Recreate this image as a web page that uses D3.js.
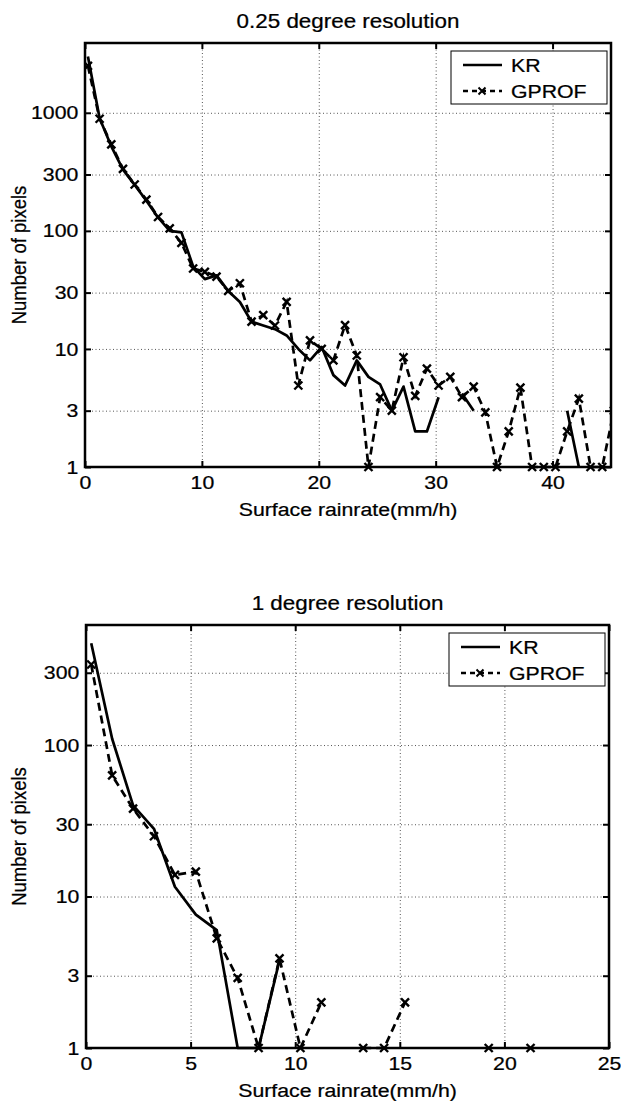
<!DOCTYPE html>
<html>
<head>
<meta charset="utf-8">
<script src="https://cdn.jsdelivr.net/npm/d3@7"></script>
<style>
  body { margin: 0; background: #fff; }
  svg text { font-family: "Liberation Sans", Arial, sans-serif; fill: #000; stroke: #000; stroke-width: 0.25px; }
</style>
</head>
<body>
<svg id="chart" width="621" height="1101"></svg>
<script>
// 0.25 degree panel (rain rate bin, pixel counts; null = no pixels)
const rain25 = [0.25, 1.25, 2.25, 3.25, 4.25, 5.25, 6.25, 7.25, 8.25, 9.25,
  10.25, 11.25, 12.25, 13.25, 14.25, 15.25, 16.25, 17.25, 18.25, 19.25,
  20.25, 21.25, 22.25, 23.25, 24.25, 25.25, 26.25, 27.25, 28.25, 29.25,
  30.25, 31.25, 32.25, 33.25, 34.25, 35.25, 36.25, 37.25, 38.25, 39.25,
  40.25, 41.25, 42.25, 43.25, 44.25, 45.25];
const kr25 = [3000, 900, 520, 330, 245, 180, 130, 100, 97, 50,
  39, 42, 31, 25, 17, 15.8, 14.7, 13, 10, 8,
  10.4, 6, 4.9, 8, 5.8, 5, 3, 4.8, 2, 2,
  3.9, null, 4.2, 3, null, null, null, null, null, null,
  null, 3, 1, null, null, null];
const gprof25 = [2500, 890, 540, 335, 247, 184, 131, 105, 79, 48,
  45, 41, 31, 36, 17, 19.3, 15.8, 25, 4.9, 11.8,
  10, 8, 15.9, 8.8, 1, 3.9, 3, 8.5, 4, 6.8,
  4.9, 5.8, 3.9, 4.8, 2.9, 1, 2, 4.7, 1, 1,
  1, 2, 3.8, 1, 1, 3];

// 1 degree panel
const rain1 = [0.25, 1.25, 2.25, 3.25, 4.25, 5.25, 6.25, 7.25, 8.25, 9.25,
  10.25, 11.25, 12.25, 13.25, 14.25, 15.25, 16.25, 17.25, 18.25, 19.25,
  20.25, 21.25];
const kr1 = [470, 110, 40, 28, 11.6, 7.6, 6, 1, 1, 3.8,
  null, null, null, null, null, null, null, null, null, null,
  null, null];
const gprof1 = [340, 63, 38, 25, 13.9, 14.6, 5.3, 2.9, 1, 3.9,
  1, 2, null, 1, 1, 2, null, null, null, 1,
  null, 1];

const xTicks25 = [0, 10, 20, 30, 40];
const yTicks25 = [1, 3, 10, 30, 100, 300, 1000];
const xTicks1 = [0, 5, 10, 15, 20, 25];
const yTicks1 = [1, 3, 10, 30, 100, 300];
const seriesNames = ["KR", "GPROF"];

const svg = d3.select("#chart");
const SX = 1.12; // scanned figure is a bit wider than tall

function label(g, x, y, txt, size, rot) {
  return g.append("text")
    .attr("transform", "translate(" + x + "," + y + ") scale(" + SX + ",1)" + (rot ? " rotate(-90)" : ""))
    .attr("text-anchor", "middle")
    .style("font-size", size + "px")
    .text(txt);
}

function drawPanel(cfg) {
  const g = svg.append("g");
  const x = d3.scaleLinear().domain(cfg.xDomain).range([cfg.left, cfg.right]);
  const y = d3.scaleLog().domain(cfg.yDomain).range([cfg.bottom, cfg.top]);
  const w = cfg.right - cfg.left;
  const h = cfg.bottom - cfg.top;

  // dotted grid
  const grid = g.append("g");
  grid.append("g")
    .attr("transform", "translate(0," + cfg.bottom + ")")
    .call(d3.axisBottom(x).tickValues(cfg.xTicks).tickSize(-h).tickFormat(""));
  grid.append("g")
    .attr("transform", "translate(" + cfg.left + ",0)")
    .call(d3.axisLeft(y).tickValues(cfg.yTicks).tickSize(-w).tickFormat(""));
  grid.selectAll(".domain").remove();
  grid.selectAll(".tick line")
    .attr("stroke", "#555")
    .attr("stroke-width", 1)
    .attr("stroke-dasharray", "1,2.5");

  // tick marks + labels
  const xAx = g.append("g")
    .attr("transform", "translate(0," + cfg.bottom + ")")
    .call(d3.axisBottom(x).tickValues(cfg.xTicks).tickSizeInner(-6).tickSizeOuter(0).tickPadding(9));
  const yAx = g.append("g")
    .attr("transform", "translate(" + cfg.left + ",0)")
    .call(d3.axisLeft(y).tickValues(cfg.yTicks).tickFormat(d3.format("d")).tickSizeInner(-6).tickSizeOuter(0).tickPadding(6));
  const tAx = g.append("g")
    .attr("transform", "translate(0," + cfg.top + ")")
    .call(d3.axisTop(x).tickValues(cfg.xTicks).tickSizeInner(-6).tickSizeOuter(0).tickFormat(""));
  const rAx = g.append("g")
    .attr("transform", "translate(" + cfg.right + ",0)")
    .call(d3.axisRight(y).tickValues(cfg.yTicks).tickSizeInner(-6).tickSizeOuter(0).tickFormat(""));
  [xAx, yAx].forEach((a) => a.selectAll("text")
    .style("font-size", "19px").attr("fill", "#000")
    .attr("transform", "scale(" + SX + ",1)"));
  [xAx, yAx, tAx, rAx].forEach((a) => {
    a.select(".domain").remove();
    a.selectAll(".tick line").attr("stroke", "#000").attr("stroke-width", 2);
  });

  // lines
  const clipId = "clip" + cfg.id;
  svg.append("clipPath").attr("id", clipId)
    .append("rect").attr("x", cfg.left).attr("y", cfg.top - 10).attr("width", w).attr("height", h + 20);

  const line = d3.line()
    .defined((d) => d.v != null)
    .x((d) => x(d.r))
    .y((d) => y(d.v));

  const krData = cfg.rain.map((r, i) => ({ r: r, v: cfg.kr[i] }));
  const gpData = cfg.rain.map((r, i) => ({ r: r, v: cfg.gprof[i] }));

  const lg = g.append("g").attr("clip-path", "url(#" + clipId + ")");
  lg.append("path").datum(krData)
    .attr("d", line).attr("fill", "none")
    .attr("stroke", "#000").attr("stroke-width", 2.7).attr("stroke-linejoin", "round");
  lg.append("path").datum(gpData)
    .attr("d", line).attr("fill", "none")
    .attr("stroke", "#000").attr("stroke-width", 2.7).attr("stroke-dasharray", "8,5");

  const m = 4;
  lg.selectAll(".mk").data(gpData.filter((d) => d.v != null))
    .enter().append("path")
    .attr("d", (d) => {
      const px = x(d.r), py = y(d.v);
      return "M" + (px - m) + "," + (py - m) + "L" + (px + m) + "," + (py + m) +
        "M" + (px - m) + "," + (py + m) + "L" + (px + m) + "," + (py - m);
    })
    .attr("stroke", "#000").attr("stroke-width", 2.4);

  // box
  g.append("rect")
    .attr("x", cfg.left).attr("y", cfg.top).attr("width", w).attr("height", h)
    .attr("fill", "none").attr("stroke", "#000").attr("stroke-width", 2.5);

  // titles
  const cx = (cfg.left + cfg.right) / 2;
  label(g, cx, cfg.top - 15, cfg.title, 20);
  label(g, cx, cfg.bottom + 49, "Surface rainrate(mm/h)", 19);
  label(g, 26, cfg.top + h / 2, "Number of pixels", 18.5, true);

  // legend
  const bx = cfg.right - 160, by = cfg.top + 8;
  const leg = g.append("g");
  leg.append("rect").attr("x", bx).attr("y", by).attr("width", 156).attr("height", 53)
    .attr("fill", "#fff").attr("stroke", "#000").attr("stroke-width", 1);
  seriesNames.forEach((name, i) => {
    const ly = by + 14 + i * 26;
    leg.append("line").attr("x1", bx + 12).attr("x2", bx + 51).attr("y1", ly).attr("y2", ly)
      .attr("stroke", "#000").attr("stroke-width", 2.7)
      .attr("stroke-dasharray", i === 1 ? "5,4" : null);
    if (i === 1) {
      const mx = bx + 31;
      leg.append("path")
        .attr("d", "M" + (mx - 3.5) + "," + (ly - 3.5) + "L" + (mx + 3.5) + "," + (ly + 3.5) +
          "M" + (mx - 3.5) + "," + (ly + 3.5) + "L" + (mx + 3.5) + "," + (ly - 3.5))
        .attr("stroke", "#000").attr("stroke-width", 2);
    }
    leg.append("text")
      .attr("transform", "translate(" + (bx + 60) + "," + (ly + 7) + ") scale(" + SX + ",1)")
      .style("font-size", "19px").text(name);
  });
}

drawPanel({
  id: "a", title: "0.25 degree resolution",
  left: 85, right: 611, top: 43, bottom: 467,
  xDomain: [0, 45], yDomain: [1, 3900],
  xTicks: xTicks25, yTicks: yTicks25,
  rain: rain25, kr: kr25, gprof: gprof25
});

drawPanel({
  id: "b", title: "1 degree resolution",
  left: 86, right: 609, top: 625, bottom: 1048,
  xDomain: [0, 25], yDomain: [1, 620],
  xTicks: xTicks1, yTicks: yTicks1,
  rain: rain1, kr: kr1, gprof: gprof1
});
</script>
</body>
</html>
